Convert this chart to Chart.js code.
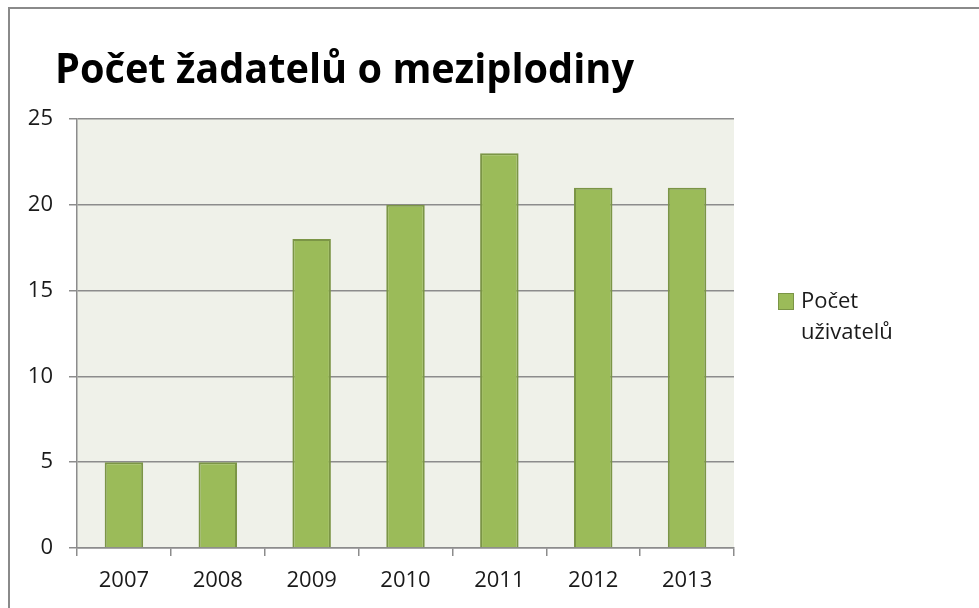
<!DOCTYPE html>
<html>
<head>
<meta charset="utf-8">
<script src="https://cdn.jsdelivr.net/npm/chart.js@4"></script>
<style>
  html, body { margin: 0; padding: 0; background: #fff; overflow: hidden; }
  #wrap { position: relative; width: 979px; height: 608px; }
  #frame { position: absolute; left: 8px; top: 7px; width: 1000px; height: 700px;
           border: 2px solid #8a8a8a; box-sizing: border-box; }
  #chart { position: absolute; left: 0; top: 0; }
</style>
</head>
<body>
<div id="wrap">
  <div id="frame"></div>
  <canvas id="chart" width="979" height="608"></canvas>
</div>
<script>
var chartTitle = 'Počet žadatelů o meziplodiny';
var years = ['2007', '2008', '2009', '2010', '2011', '2012', '2013'];
var applicants = [5, 5, 18, 20, 23, 21, 21];
var seriesLabel = ['Počet', 'uživatelů'];
var yTicks = [0, 5, 10, 15, 20, 25];

var barFill = '#9bbb59';
var barEdge = '#7b9546';
var gridGray = '#8c8c8c';

// plot background, title and the wrapped legend
var decor = {
    id: 'decor',
    beforeDraw: function(chart) {
        var a = chart.chartArea, ctx = chart.ctx;
        ctx.save();
        ctx.fillStyle = '#eff1e9';
        ctx.fillRect(a.left, a.top, a.right - a.left, a.bottom - a.top);
        ctx.restore();
    },
    afterDraw: function(chart) {
        var ctx = chart.ctx;
        ctx.save();
        ctx.fillStyle = '#000';
        ctx.textBaseline = 'alphabetic';
        ctx.font = 'bold 41px "Open Sans"';
        ctx.fillText(chartTitle, 55, 83, 579);

        // legend
        ctx.fillStyle = barFill;
        ctx.fillRect(778.5, 293.5, 15, 16);
        ctx.strokeStyle = barEdge;
        ctx.lineWidth = 1;
        ctx.strokeRect(778.5, 293.5, 15, 16);
        ctx.fillStyle = '#1a1a1a';
        ctx.font = '22px "Open Sans"';
        ctx.textBaseline = 'middle';
        ctx.fillText(seriesLabel[0], 801, 302);
        ctx.fillText(seriesLabel[1], 801, 333);
        ctx.restore();
    }
};

var ctx = document.getElementById('chart').getContext('2d');
var chart = new Chart(ctx, {
    type: 'bar',
    data: {
        labels: years,
        datasets: [{
            label: seriesLabel.join(' '),
            data: applicants,
            backgroundColor: barFill,
            borderColor: barEdge,
            borderWidth: 2,
            borderSkipped: 'bottom',
            barPercentage: 0.41,
            categoryPercentage: 1
        }]
    },
    options: {
        responsive: false,
        animation: false,
        layout: { padding: { left: 7, right: 245, top: 119, bottom: 10 } },
        plugins: {
            legend: { display: false },
            title: { display: false },
            tooltip: { enabled: false }
        },
        scales: {
            x: {
                afterFit: function(s) { s.height = 50; },
                grid: {
                    offset: true,
                    drawOnChartArea: false,
                    color: gridGray,
                    lineWidth: 1.5,
                    tickLength: 8
                },
                border: { color: gridGray, width: 1.5 },
                ticks: {
                    color: '#1a1a1a',
                    padding: 12,
                    font: { family: 'Open Sans', size: 22 }
                }
            },
            y: {
                min: 0,
                max: 25,
                afterFit: function(s) { s.width = 70; },
                afterBuildTicks: function(s) {
                    s.ticks = yTicks.map(function(v) { return { value: v }; });
                },
                grid: {
                    color: gridGray,
                    lineWidth: 1.5,
                    tickLength: 8
                },
                border: { color: gridGray, width: 1.5 },
                ticks: {
                    color: '#1a1a1a',
                    padding: 16,
                    font: { family: 'Open Sans', size: 22 }
                }
            }
        }
    },
    plugins: [decor]
});
</script>
</body>
</html>
